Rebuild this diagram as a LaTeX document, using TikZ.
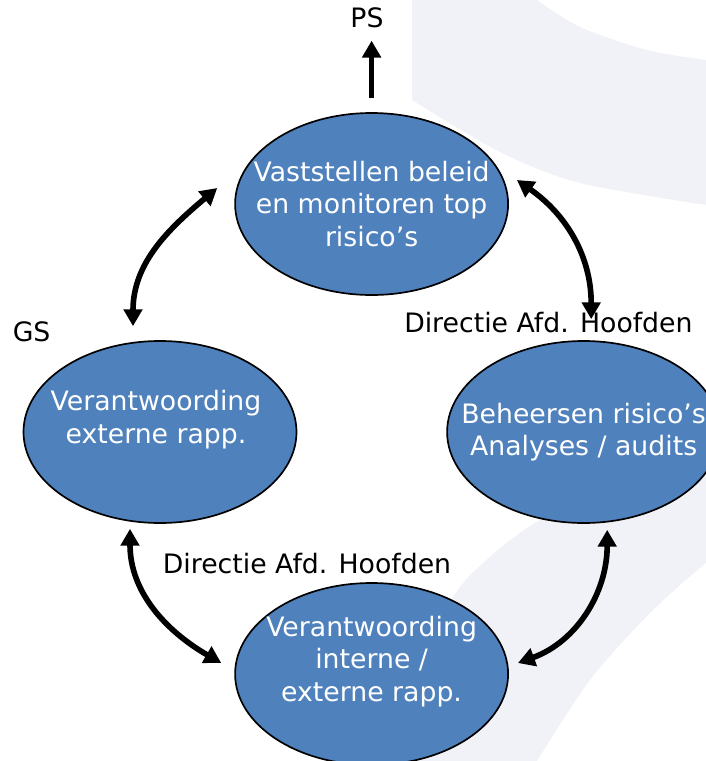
\documentclass[tikz,border=0pt]{standalone}
\usepackage{fontspec}
\setmainfont{DejaVu Sans}
\usetikzlibrary{arrows.meta, shapes.geometric}
\definecolor{phaseblue}{HTML}{4F81BD}
\definecolor{watermark}{RGB}{241,242,248}

\begin{document}
\begin{tikzpicture}[
  phase/.style={ellipse, draw=black, line width=1.2pt, fill=phaseblue, minimum width=6.825cm, minimum height=4.55cm, inner sep=0pt},
  phasetext/.style={text=white, align=center, font=\fontsize{19}{22.8}\selectfont},
  actor/.style={anchor=base, inner sep=0pt, font=\fontsize{19}{22.8}\selectfont},
  flowarrow/.style={line width=4pt, {Triangle[length=12pt,width=13pt]}-{Triangle[length=12pt,width=13pt]}},
]
\useasboundingbox (0,0) rectangle (17.65,-19.025);
\clip (0,0) rectangle (17.65,-19.025);

% Background watermark
\fill[watermark] (10.3,0.2) -- (13.425,0.2)
  -- plot[smooth] coordinates {(13.425,0) (14.5,-0.675) (16.175,-1.25) (17.65,-1.5) (18.5,-1.6)}
  -- (18.5,-5.2)
  -- plot[smooth] coordinates {(17.65,-5.125) (14.5,-4.575) (12.5,-3.8) (10.3,-2.5)}
  -- cycle;
\fill[watermark] plot[smooth] coordinates {(18.5,-11.4) (17.65,-11.625) (15.5,-12.25) (13.5,-13.0) (12.075,-14.075) (11.25,-15.075) (10.25,-17.5) (9.75,-19.5)}
  -- (13.3,-19.5)
  -- plot[smooth] coordinates {(13.425,-19.025) (14.75,-17.0) (16.25,-15.325) (17.65,-14.075) (18.5,-13.5)}
  -- cycle;

% Phases
\node[phase] (top) at (9.29, -5.1) {};
\node[phase] (left) at (4.0, -10.8) {};
\node[phase] (right) at (14.59, -10.8) {};
\node[phase] (bottom) at (9.29, -16.85) {};

\node[phasetext] (toptext) at (top) {Vaststellen beleid\\en monitoren top\\risico’s};
\node[phasetext] (lefttext) at ([xshift=-0.1cm, yshift=0.31cm]left) {Verantwoording\\externe rapp.};
\node[phasetext] (righttext) at (right) {Beheersen risico’s\\Analyses / audits};
\node[phasetext] (bottomtext) at ([yshift=0.31cm]bottom) {Verantwoording\\interne /\\externe rapp.};

% Actors
\node[actor] (ps) at (9.175, -0.7) {PS};
\node[actor] (gs) at (0.79, -8.525) {GS};
\node[actor] (dirright) at (13.71, -8.3) {Directie Afd. Hoofden};
\node[actor] (dirbottom) at (7.675, -14.325) {Directie Afd. Hoofden};

% Arrows
\draw[line width=4pt, -{Triangle[length=12pt,width=13pt]}, shorten <=0.35cm, shorten >=0.3cm] (top.north) -- (top.north |- ps.south);
\draw[flowarrow] ([xshift=-0.675cm, yshift=0.35cm]left.north) to[out=90, in=220] ([xshift=-0.425cm, yshift=0.4cm]top.west);
\draw[flowarrow] ([xshift=0.19cm, yshift=0.525cm]right.north) to[out=90, in=-35] ([xshift=0.2cm, yshift=0.6cm]top.east);
\draw[flowarrow] ([xshift=-0.75cm, yshift=-0.125cm]left.south) to[out=-90, in=150] ([xshift=-0.325cm, yshift=0.275cm]bottom.west);
\draw[flowarrow] ([xshift=0.59cm, yshift=-0.15cm]right.south) to[out=-90, in=20] ([xshift=0.225cm, yshift=0.275cm]bottom.east);

\end{tikzpicture}
\end{document}
